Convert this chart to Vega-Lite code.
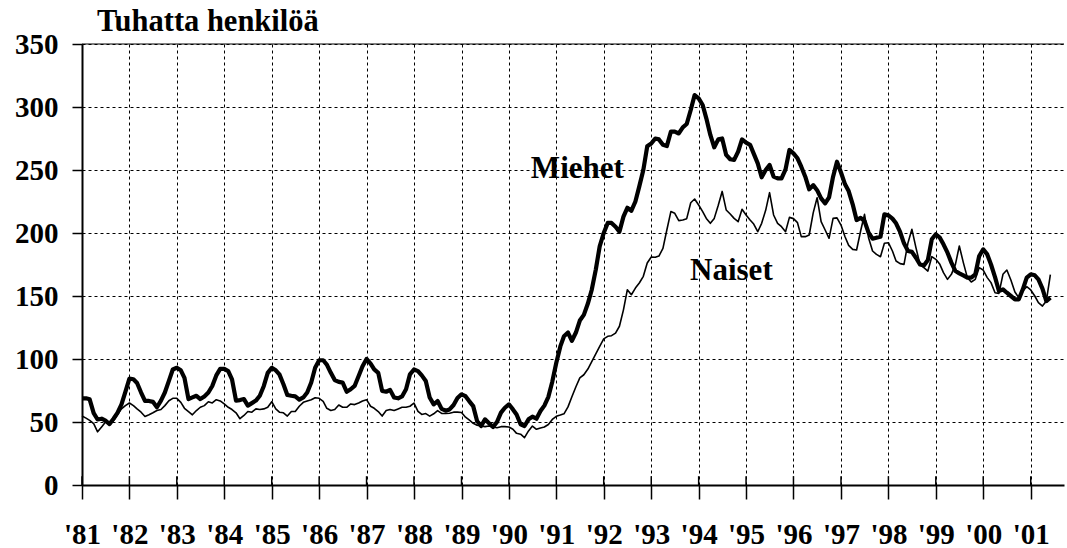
{
  "$schema": "https://vega.github.io/schema/vega-lite/v6.json",
  "width": 982,
  "height": 441,
  "autosize": "none",
  "padding": {"left": 82, "top": 44, "right": 3, "bottom": 63},
  "background": "white",
  "title": {"text": "Tuhatta henkilöä", "anchor": "start", "frame": "group", "dx": 15, "offset": -7, "font": "Liberation Serif", "fontSize": 30.5, "fontWeight": "bold", "color": "black"},
  "config": {
    "view": {"stroke": null},
    "axis": {
      "labelFont": "Liberation Serif", "labelFontWeight": "bold", "labelFontSize": 29, "labelColor": "black",
      "domainColor": "black", "domainWidth": 2, "tickColor": "black", "tickWidth": 1.5,
      "gridColor": "black", "gridDash": [3, 3], "gridWidth": 1, "gridOpacity": 1, "title": null
    }
  },
  "datasets": {
    "years": [
      {"d": "1981-01-01"}, {"d": "1982-01-01"}, {"d": "1983-01-01"}, {"d": "1984-01-01"}, {"d": "1985-01-01"},
      {"d": "1986-01-01"}, {"d": "1987-01-01"}, {"d": "1988-01-01"}, {"d": "1989-01-01"}, {"d": "1990-01-01"},
      {"d": "1991-01-01"}, {"d": "1992-01-01"}, {"d": "1993-01-01"}, {"d": "1994-01-01"}, {"d": "1995-01-01"},
      {"d": "1996-01-01"}, {"d": "1997-01-01"}, {"d": "1998-01-01"}, {"d": "1999-01-01"}, {"d": "2000-01-01"},
      {"d": "2001-01-01"}
    ],
    "series": [
      {"d":"1981-01-01","Miehet":68.8,"Naiset":54.7},{"d":"1981-02-01","Miehet":68.8,"Naiset":53.1},{"d":"1981-03-01","Miehet":68.0,"Naiset":51.3},{"d":"1981-04-01","Miehet":57.0,"Naiset":48.7},{"d":"1981-05-01","Miehet":52.0,"Naiset":42.2},{"d":"1981-06-01","Miehet":52.6,"Naiset":46.1},{"d":"1981-07-01","Miehet":51.0,"Naiset":50.0},{"d":"1981-08-01","Miehet":48.4,"Naiset":48.7},{"d":"1981-09-01","Miehet":52.6,"Naiset":51.3},{"d":"1981-10-01","Miehet":57.3,"Naiset":55.7},{"d":"1981-11-01","Miehet":64.0,"Naiset":60.4},{"d":"1981-12-01","Miehet":74.0,"Naiset":63.0},
      {"d":"1982-01-01","Miehet":84.4,"Naiset":65.1},{"d":"1982-02-01","Miehet":83.9,"Naiset":63.0},{"d":"1982-03-01","Miehet":81.0,"Naiset":60.4},{"d":"1982-04-01","Miehet":73.4,"Naiset":57.8},{"d":"1982-05-01","Miehet":66.7,"Naiset":54.4},{"d":"1982-06-01","Miehet":66.7,"Naiset":55.7},{"d":"1982-07-01","Miehet":66.0,"Naiset":57.3},{"d":"1982-08-01","Miehet":61.7,"Naiset":59.1},{"d":"1982-09-01","Miehet":67.0,"Naiset":59.9},{"d":"1982-10-01","Miehet":73.4,"Naiset":63.0},{"d":"1982-11-01","Miehet":82.6,"Naiset":66.9},{"d":"1982-12-01","Miehet":91.7,"Naiset":68.8},
      {"d":"1983-01-01","Miehet":93.0,"Naiset":68.8},{"d":"1983-02-01","Miehet":91.0,"Naiset":65.6},{"d":"1983-03-01","Miehet":85.0,"Naiset":60.9},{"d":"1983-04-01","Miehet":68.2,"Naiset":58.3},{"d":"1983-05-01","Miehet":69.5,"Naiset":55.7},{"d":"1983-06-01","Miehet":70.8,"Naiset":59.1},{"d":"1983-07-01","Miehet":68.2,"Naiset":61.7},{"d":"1983-08-01","Miehet":70.3,"Naiset":63.0},{"d":"1983-09-01","Miehet":73.4,"Naiset":66.1},{"d":"1983-10-01","Miehet":78.6,"Naiset":65.1},{"d":"1983-11-01","Miehet":87.0,"Naiset":67.7},{"d":"1983-12-01","Miehet":92.2,"Naiset":66.7},
      {"d":"1984-01-01","Miehet":92.2,"Naiset":64.3},{"d":"1984-02-01","Miehet":90.4,"Naiset":61.7},{"d":"1984-03-01","Miehet":83.9,"Naiset":59.9},{"d":"1984-04-01","Miehet":67.0,"Naiset":57.3},{"d":"1984-05-01","Miehet":67.4,"Naiset":52.6},{"d":"1984-06-01","Miehet":68.2,"Naiset":55.2},{"d":"1984-07-01","Miehet":63.0,"Naiset":58.3},{"d":"1984-08-01","Miehet":65.0,"Naiset":57.8},{"d":"1984-09-01","Miehet":67.0,"Naiset":60.4},{"d":"1984-10-01","Miehet":70.8,"Naiset":59.9},{"d":"1984-11-01","Miehet":78.6,"Naiset":60.4},{"d":"1984-12-01","Miehet":89.0,"Naiset":61.7},
      {"d":"1985-01-01","Miehet":93.0,"Naiset":66.1},{"d":"1985-02-01","Miehet":91.0,"Naiset":60.4},{"d":"1985-03-01","Miehet":87.8,"Naiset":57.8},{"d":"1985-04-01","Miehet":80.0,"Naiset":57.3},{"d":"1985-05-01","Miehet":71.4,"Naiset":54.7},{"d":"1985-06-01","Miehet":70.8,"Naiset":58.3},{"d":"1985-07-01","Miehet":70.3,"Naiset":58.3},{"d":"1985-08-01","Miehet":67.7,"Naiset":62.5},{"d":"1985-09-01","Miehet":69.5,"Naiset":65.6},{"d":"1985-10-01","Miehet":73.4,"Naiset":66.7},{"d":"1985-11-01","Miehet":81.3,"Naiset":67.7},{"d":"1985-12-01","Miehet":93.0,"Naiset":69.3},
      {"d":"1986-01-01","Miehet":99.0,"Naiset":68.8},{"d":"1986-02-01","Miehet":99.0,"Naiset":66.4},{"d":"1986-03-01","Miehet":95.6,"Naiset":60.9},{"d":"1986-04-01","Miehet":89.0,"Naiset":59.1},{"d":"1986-05-01","Miehet":83.3,"Naiset":59.9},{"d":"1986-06-01","Miehet":81.8,"Naiset":63.5},{"d":"1986-07-01","Miehet":81.3,"Naiset":61.7},{"d":"1986-08-01","Miehet":74.0,"Naiset":61.7},{"d":"1986-09-01","Miehet":76.0,"Naiset":64.3},{"d":"1986-10-01","Miehet":78.6,"Naiset":63.8},{"d":"1986-11-01","Miehet":86.5,"Naiset":65.1},{"d":"1986-12-01","Miehet":94.3,"Naiset":66.7},
      {"d":"1987-01-01","Miehet":100.0,"Naiset":67.7},{"d":"1987-02-01","Miehet":96.4,"Naiset":62.5},{"d":"1987-03-01","Miehet":91.7,"Naiset":60.9},{"d":"1987-04-01","Miehet":89.0,"Naiset":58.3},{"d":"1987-05-01","Miehet":74.7,"Naiset":54.7},{"d":"1987-06-01","Miehet":74.0,"Naiset":59.1},{"d":"1987-07-01","Miehet":75.5,"Naiset":59.9},{"d":"1987-08-01","Miehet":69.5,"Naiset":59.1},{"d":"1987-09-01","Miehet":68.8,"Naiset":60.4},{"d":"1987-10-01","Miehet":70.3,"Naiset":61.7},{"d":"1987-11-01","Miehet":76.0,"Naiset":61.7},{"d":"1987-12-01","Miehet":87.8,"Naiset":62.5},
      {"d":"1988-01-01","Miehet":91.7,"Naiset":65.0},{"d":"1988-02-01","Miehet":90.4,"Naiset":58.5},{"d":"1988-03-01","Miehet":87.0,"Naiset":56.0},{"d":"1988-04-01","Miehet":82.6,"Naiset":56.7},{"d":"1988-05-01","Miehet":69.5,"Naiset":54.7},{"d":"1988-06-01","Miehet":64.0,"Naiset":56.5},{"d":"1988-07-01","Miehet":66.6,"Naiset":59.0},{"d":"1988-08-01","Miehet":60.4,"Naiset":56.8},{"d":"1988-09-01","Miehet":59.0,"Naiset":56.8},{"d":"1988-10-01","Miehet":60.0,"Naiset":57.0},{"d":"1988-11-01","Miehet":63.5,"Naiset":57.8},{"d":"1988-12-01","Miehet":69.0,"Naiset":57.8},
      {"d":"1989-01-01","Miehet":72.0,"Naiset":57.6},{"d":"1989-02-01","Miehet":70.5,"Naiset":53.8},{"d":"1989-03-01","Miehet":66.6,"Naiset":51.6},{"d":"1989-04-01","Miehet":62.6,"Naiset":49.0},{"d":"1989-05-01","Miehet":50.8,"Naiset":47.4},{"d":"1989-06-01","Miehet":46.8,"Naiset":46.8},{"d":"1989-07-01","Miehet":52.1,"Naiset":46.3},{"d":"1989-08-01","Miehet":49.0,"Naiset":46.8},{"d":"1989-09-01","Miehet":46.0,"Naiset":46.0},{"d":"1989-10-01","Miehet":50.0,"Naiset":45.5},{"d":"1989-11-01","Miehet":57.4,"Naiset":46.3},{"d":"1989-12-01","Miehet":61.3,"Naiset":46.3},
      {"d":"1990-01-01","Miehet":64.0,"Naiset":46.0},{"d":"1990-02-01","Miehet":60.0,"Naiset":44.2},{"d":"1990-03-01","Miehet":56.0,"Naiset":41.0},{"d":"1990-04-01","Miehet":48.2,"Naiset":40.3},{"d":"1990-05-01","Miehet":46.8,"Naiset":37.6},{"d":"1990-06-01","Miehet":52.1,"Naiset":42.9},{"d":"1990-07-01","Miehet":54.2,"Naiset":46.8},{"d":"1990-08-01","Miehet":52.6,"Naiset":44.2},{"d":"1990-09-01","Miehet":58.7,"Naiset":45.3},{"d":"1990-10-01","Miehet":63.0,"Naiset":46.0},{"d":"1990-11-01","Miehet":70.0,"Naiset":48.0},{"d":"1990-12-01","Miehet":82.0,"Naiset":52.0},
      {"d":"1991-01-01","Miehet":97.0,"Naiset":54.5},{"d":"1991-02-01","Miehet":110.0,"Naiset":55.5},{"d":"1991-03-01","Miehet":118.0,"Naiset":56.5},{"d":"1991-04-01","Miehet":121.0,"Naiset":62.0},{"d":"1991-05-01","Miehet":114.5,"Naiset":70.0},{"d":"1991-06-01","Miehet":121.0,"Naiset":78.0},{"d":"1991-07-01","Miehet":130.5,"Naiset":85.0},{"d":"1991-08-01","Miehet":135.0,"Naiset":87.5},{"d":"1991-09-01","Miehet":144.0,"Naiset":92.0},{"d":"1991-10-01","Miehet":155.0,"Naiset":98.0},{"d":"1991-11-01","Miehet":171.0,"Naiset":104.0},{"d":"1991-12-01","Miehet":189.4,"Naiset":110.0},
      {"d":"1992-01-01","Miehet":200.0,"Naiset":116.0},{"d":"1992-02-01","Miehet":208.0,"Naiset":118.0},{"d":"1992-03-01","Miehet":208.0,"Naiset":118.5},{"d":"1992-04-01","Miehet":205.0,"Naiset":120.6},{"d":"1992-05-01","Miehet":201.0,"Naiset":126.0},{"d":"1992-06-01","Miehet":213.0,"Naiset":139.0},{"d":"1992-07-01","Miehet":220.0,"Naiset":155.0},{"d":"1992-08-01","Miehet":217.7,"Naiset":151.0},{"d":"1992-09-01","Miehet":225.0,"Naiset":156.3},{"d":"1992-10-01","Miehet":237.0,"Naiset":160.3},{"d":"1992-11-01","Miehet":250.0,"Naiset":165.6},{"d":"1992-12-01","Miehet":268.8,"Naiset":176.2},
      {"d":"1993-01-01","Miehet":271.0,"Naiset":181.0},{"d":"1993-02-01","Miehet":275.0,"Naiset":180.7},{"d":"1993-03-01","Miehet":274.3,"Naiset":181.7},{"d":"1993-04-01","Miehet":270.0,"Naiset":187.8},{"d":"1993-05-01","Miehet":269.0,"Naiset":202.4},{"d":"1993-06-01","Miehet":280.4,"Naiset":217.0},{"d":"1993-07-01","Miehet":280.4,"Naiset":215.6},{"d":"1993-08-01","Miehet":279.0,"Naiset":209.8},{"d":"1993-09-01","Miehet":283.9,"Naiset":210.3},{"d":"1993-10-01","Miehet":286.5,"Naiset":211.4},{"d":"1993-11-01","Miehet":297.6,"Naiset":224.0},{"d":"1993-12-01","Miehet":309.5,"Naiset":227.0},
      {"d":"1994-01-01","Miehet":306.9,"Naiset":222.2},{"d":"1994-02-01","Miehet":301.6,"Naiset":216.9},{"d":"1994-03-01","Miehet":291.0,"Naiset":211.6},{"d":"1994-04-01","Miehet":277.8,"Naiset":207.7},{"d":"1994-05-01","Miehet":268.0,"Naiset":211.6},{"d":"1994-06-01","Miehet":274.3,"Naiset":222.0},{"d":"1994-07-01","Miehet":275.0,"Naiset":233.0},{"d":"1994-08-01","Miehet":262.0,"Naiset":218.3},{"d":"1994-09-01","Miehet":258.5,"Naiset":215.1},{"d":"1994-10-01","Miehet":258.0,"Naiset":211.6},{"d":"1994-11-01","Miehet":264.6,"Naiset":209.0},{"d":"1994-12-01","Miehet":274.3,"Naiset":218.8},
      {"d":"1995-01-01","Miehet":271.7,"Naiset":214.3},{"d":"1995-02-01","Miehet":270.0,"Naiset":210.3},{"d":"1995-03-01","Miehet":263.0,"Naiset":207.1},{"d":"1995-04-01","Miehet":255.3,"Naiset":201.0},{"d":"1995-05-01","Miehet":244.2,"Naiset":207.7},{"d":"1995-06-01","Miehet":250.0,"Naiset":218.0},{"d":"1995-07-01","Miehet":254.0,"Naiset":232.0},{"d":"1995-08-01","Miehet":244.7,"Naiset":214.3},{"d":"1995-09-01","Miehet":243.4,"Naiset":207.7},{"d":"1995-10-01","Miehet":243.4,"Naiset":205.0},{"d":"1995-11-01","Miehet":250.5,"Naiset":201.0},{"d":"1995-12-01","Miehet":265.9,"Naiset":212.4},
      {"d":"1996-01-01","Miehet":263.2,"Naiset":211.4},{"d":"1996-02-01","Miehet":259.3,"Naiset":208.2},{"d":"1996-03-01","Miehet":252.6,"Naiset":197.1},{"d":"1996-04-01","Miehet":244.7,"Naiset":197.1},{"d":"1996-05-01","Miehet":234.7,"Naiset":198.4},{"d":"1996-06-01","Miehet":238.0,"Naiset":216.0},{"d":"1996-07-01","Miehet":234.0,"Naiset":228.0},{"d":"1996-08-01","Miehet":227.5,"Naiset":209.0},{"d":"1996-09-01","Miehet":223.5,"Naiset":202.4},{"d":"1996-10-01","Miehet":228.3,"Naiset":195.8},{"d":"1996-11-01","Miehet":244.7,"Naiset":211.6},{"d":"1996-12-01","Miehet":256.6,"Naiset":212.0},
      {"d":"1997-01-01","Miehet":248.0,"Naiset":206.3},{"d":"1997-02-01","Miehet":238.6,"Naiset":197.0},{"d":"1997-03-01","Miehet":233.3,"Naiset":190.2},{"d":"1997-04-01","Miehet":222.8,"Naiset":187.0},{"d":"1997-05-01","Miehet":210.3,"Naiset":186.5},{"d":"1997-06-01","Miehet":212.0,"Naiset":201.6},{"d":"1997-07-01","Miehet":209.5,"Naiset":214.8},{"d":"1997-08-01","Miehet":200.3,"Naiset":196.3},{"d":"1997-09-01","Miehet":195.5,"Naiset":185.7},{"d":"1997-10-01","Miehet":196.3,"Naiset":183.0},{"d":"1997-11-01","Miehet":197.0,"Naiset":181.2},{"d":"1997-12-01","Miehet":214.8,"Naiset":191.8},
      {"d":"1998-01-01","Miehet":214.0,"Naiset":192.3},{"d":"1998-02-01","Miehet":211.4,"Naiset":185.7},{"d":"1998-03-01","Miehet":207.7,"Naiset":177.8},{"d":"1998-04-01","Miehet":200.8,"Naiset":175.7},{"d":"1998-05-01","Miehet":191.8,"Naiset":175.1},{"d":"1998-06-01","Miehet":185.7,"Naiset":192.3},{"d":"1998-07-01","Miehet":185.0,"Naiset":202.9},{"d":"1998-08-01","Miehet":180.4,"Naiset":188.4},{"d":"1998-09-01","Miehet":175.0,"Naiset":175.1},{"d":"1998-10-01","Miehet":174.3,"Naiset":172.5},{"d":"1998-11-01","Miehet":178.6,"Naiset":169.8},{"d":"1998-12-01","Miehet":195.0,"Naiset":181.2},
      {"d":"1999-01-01","Miehet":199.0,"Naiset":179.1},{"d":"1999-02-01","Miehet":196.3,"Naiset":175.1},{"d":"1999-03-01","Miehet":191.0,"Naiset":168.5},{"d":"1999-04-01","Miehet":184.4,"Naiset":163.2},{"d":"1999-05-01","Miehet":176.5,"Naiset":167.2},{"d":"1999-06-01","Miehet":169.8,"Naiset":175.1},{"d":"1999-07-01","Miehet":168.0,"Naiset":189.7},{"d":"1999-08-01","Miehet":166.4,"Naiset":176.5},{"d":"1999-09-01","Miehet":164.6,"Naiset":164.6},{"d":"1999-10-01","Miehet":164.6,"Naiset":161.1},{"d":"1999-11-01","Miehet":167.2,"Naiset":163.2},{"d":"1999-12-01","Miehet":181.7,"Naiset":172.5},
      {"d":"2000-01-01","Miehet":187.0,"Naiset":170.6},{"d":"2000-02-01","Miehet":183.0,"Naiset":164.6},{"d":"2000-03-01","Miehet":175.0,"Naiset":160.6},{"d":"2000-04-01","Miehet":165.0,"Naiset":152.6},{"d":"2000-05-01","Miehet":154.0,"Naiset":152.1},{"d":"2000-06-01","Miehet":155.3,"Naiset":167.2},{"d":"2000-07-01","Miehet":152.6,"Naiset":170.6},{"d":"2000-08-01","Miehet":150.0,"Naiset":162.7},{"d":"2000-09-01","Miehet":147.4,"Naiset":153.2},{"d":"2000-10-01","Miehet":147.4,"Naiset":148.7},{"d":"2000-11-01","Miehet":155.3,"Naiset":154.0},{"d":"2000-12-01","Miehet":164.6,"Naiset":157.4},
      {"d":"2001-01-01","Miehet":167.2,"Naiset":154.8},{"d":"2001-02-01","Miehet":166.4,"Naiset":150.0},{"d":"2001-03-01","Miehet":163.2,"Naiset":144.7},{"d":"2001-04-01","Miehet":155.8,"Naiset":142.0},{"d":"2001-05-01","Miehet":146.0,"Naiset":146.0},{"d":"2001-06-01","Miehet":148.7,"Naiset":167.0}
    ]
  },
  "layer": [
    {
      "data": {"name": "series"},
      "transform": [{"fold": ["Miehet", "Naiset"], "as": ["sarja", "arvo"]}],
      "mark": {"type": "line", "color": "black", "strokeJoin": "round"},
      "encoding": {
        "x": {
          "field": "d", "type": "temporal",
          "scale": {"type": "utc", "domain": [{"year": 1981, "month": 1, "date": 1, "utc": true}, {"year": 2001, "month": 9, "date": 14, "utc": true}], "nice": false},
          "axis": {
            "values": [
              {"year": 1981, "utc": true}, {"year": 1982, "utc": true}, {"year": 1983, "utc": true}, {"year": 1984, "utc": true}, {"year": 1985, "utc": true},
              {"year": 1986, "utc": true}, {"year": 1987, "utc": true}, {"year": 1988, "utc": true}, {"year": 1989, "utc": true}, {"year": 1990, "utc": true},
              {"year": 1991, "utc": true}, {"year": 1992, "utc": true}, {"year": 1993, "utc": true}, {"year": 1994, "utc": true}, {"year": 1995, "utc": true},
              {"year": 1996, "utc": true}, {"year": 1997, "utc": true}, {"year": 1998, "utc": true}, {"year": 1999, "utc": true}, {"year": 2000, "utc": true},
              {"year": 2001, "utc": true}
            ],
            "labelExpr": "\"'\" + utcFormat(datum.value, '%y')",
            "tickSize": 14, "labelPadding": 21, "grid": true, "labelFlush": false, "labelOverlap": false
          }
        },
        "y": {
          "field": "arvo", "type": "quantitative",
          "scale": {"domain": [0, 350], "nice": false},
          "axis": {"values": [0, 50, 100, 150, 200, 250, 300, 350], "tickSize": 10, "labelPadding": 14, "grid": true}
        },
        "strokeWidth": {"field": "sarja", "type": "nominal", "scale": {"domain": ["Miehet", "Naiset"], "range": [4.2, 1.6]}, "legend": null}
      }
    },
    {
      "data": {"name": "years"},
      "mark": {"type": "rule", "color": "black", "strokeWidth": 1.5},
      "encoding": {
        "x": {"field": "d", "type": "temporal"},
        "y": {"datum": 0},
        "y2": {"datum": 7}
      }
    },
    {
      "data": {"values": [{}]},
      "mark": {"type": "rule", "color": "black", "strokeWidth": 1.2},
      "encoding": {
        "y": {"datum": 350}
      }
    },
    {
      "data": {"values": [{}]},
      "mark": {"type": "text", "font": "Liberation Serif", "fontWeight": "bold", "fontSize": 31, "align": "center", "baseline": "alphabetic", "color": "black"},
      "encoding": {
        "x": {"datum": {"year": 1991, "month": 6, "date": 12, "utc": true}, "type": "temporal"},
        "y": {"datum": 244},
        "text": {"value": "Miehet"}
      }
    },
    {
      "data": {"values": [{}]},
      "mark": {"type": "text", "font": "Liberation Serif", "fontWeight": "bold", "fontSize": 31, "align": "center", "baseline": "alphabetic", "color": "black"},
      "encoding": {
        "x": {"datum": {"year": 1994, "month": 9, "date": 10, "utc": true}, "type": "temporal"},
        "y": {"datum": 163},
        "text": {"value": "Naiset"}
      }
    }
  ]
}
